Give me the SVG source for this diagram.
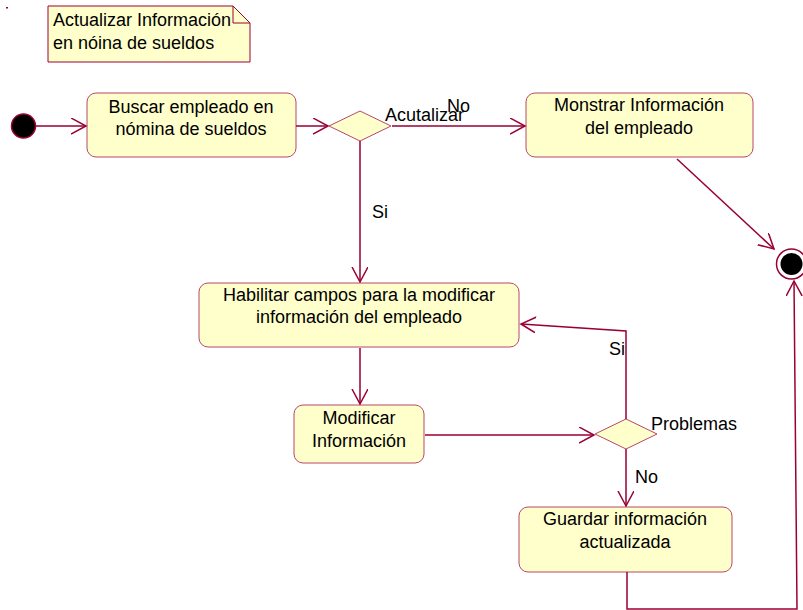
<svg xmlns="http://www.w3.org/2000/svg" width="803" height="610" viewBox="0 0 803 610">
<style>
.node{fill:#ffffcc;stroke:#b8476a;stroke-width:1}
.t{font-family:"Liberation Sans",Arial,sans-serif;font-size:18px;fill:#000}
.c{text-anchor:middle}
.e{fill:none;stroke:#990033;stroke-width:1.5}
</style>
<defs>
<marker id="ah" markerUnits="userSpaceOnUse" markerWidth="18" markerHeight="20" refX="15" refY="8" orient="auto" viewBox="0 0 18 20">
<path d="M0,0 L15,8 L0,16" fill="none" stroke="#990033" stroke-width="1.5"/>
</marker>
</defs>
<rect x="6" y="7" width="2" height="1.5" fill="#990033"/>
<g id="note">
<path d="M48,6 H233 L250,23 V62 H48 Z" fill="#ffffcc" stroke="#990033" stroke-width="1"/>
<path d="M233,6 V23 H250" fill="none" stroke="#990033" stroke-width="1"/>
<text class="t" x="53" y="26">Actualizar Información</text>
<text class="t" x="53" y="49">en nóina de sueldos</text>
</g>
<g id="start"><circle cx="23.5" cy="126" r="12" fill="#000" stroke="#990033" stroke-width="1.5"/></g>
<g id="buscar">
<rect class="node" x="87" y="93" width="209" height="64" rx="9"/>
<text class="t c" x="191" y="113">Buscar empleado en</text>
<text class="t c" x="191" y="135">nómina de sueldos</text>
</g>
<g id="dec1"><path class="node" d="M329,126 L360,111 L391,126 L360,141 Z"/></g>
<g id="monstrar">
<rect class="node" x="526" y="93" width="227" height="64" rx="9"/>
<text class="t c" x="639" y="111">Monstrar Información</text>
<text class="t c" x="639" y="134">del empleado</text>
</g>
<g id="final">
<circle cx="791.5" cy="264" r="15" fill="#fff" stroke="#990033" stroke-width="1.5"/>
<circle cx="791.5" cy="264" r="11" fill="#000"/>
</g>
<g id="habilitar">
<rect class="node" x="199" y="283" width="320" height="64" rx="9"/>
<text class="t c" x="359" y="301">Habilitar campos para la modificar</text>
<text class="t c" x="359" y="323">información del empleado</text>
</g>
<g id="modificar">
<rect class="node" x="294" y="405" width="130" height="58" rx="9"/>
<text class="t c" x="359" y="424">Modificar</text>
<text class="t c" x="359" y="447">Información</text>
</g>
<g id="dec2"><path class="node" d="M595,434 L626,419 L657,434 L626,449 Z"/></g>
<g id="guardar">
<rect class="node" x="519" y="507" width="213" height="65" rx="9"/>
<text class="t c" x="625" y="525">Guardar información</text>
<text class="t c" x="625" y="548">actualizada</text>
</g>
<g id="connectors">
<path class="e" d="M36,126 H86" marker-end="url(#ah)"/>
<path class="e" d="M296,126 H328" marker-end="url(#ah)"/>
<path class="e" d="M392,126 H525" marker-end="url(#ah)"/>
<path class="e" d="M677,159 L774,249" marker-end="url(#ah)"/>
<path class="e" d="M360,141 V282" marker-end="url(#ah)"/>
<path class="e" d="M360,348 V404" marker-end="url(#ah)"/>
<path class="e" d="M425,435 H594" marker-end="url(#ah)"/>
<path class="e" d="M626,419 V331 L521,324" marker-end="url(#ah)"/>
<path class="e" d="M626,449 V506" marker-end="url(#ah)"/>
<path class="e" d="M627,572 V609 H797 L794,281" marker-end="url(#ah)"/>
<text class="t" x="385" y="121">Acutalizar</text>
<text class="t" x="447" y="112">No</text>
<text class="t" x="372" y="218">Si</text>
<text class="t" x="609" y="355">Si</text>
<text class="t" x="651" y="430">Problemas</text>
<text class="t" x="635" y="483">No</text>
</g>
</svg>
